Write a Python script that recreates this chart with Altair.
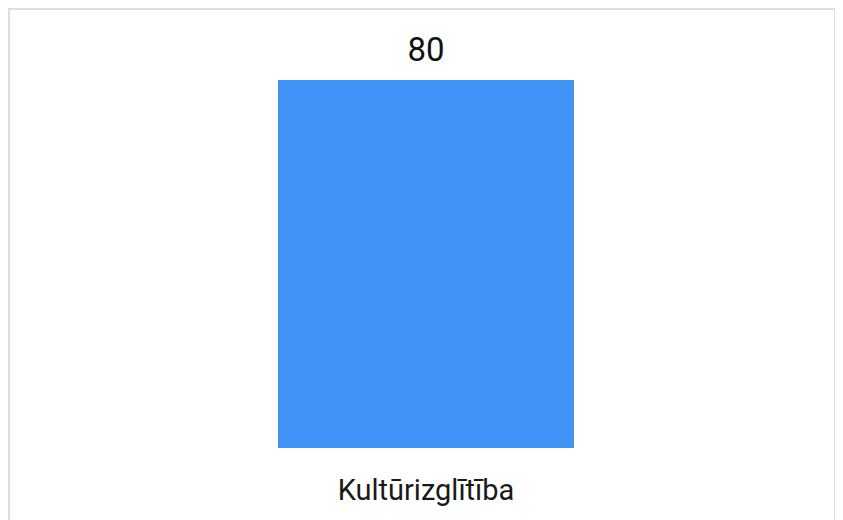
import altair as alt
import pandas as pd

categories = ["Kultūrizglītība"]
values = [80]

df = pd.DataFrame({"category": categories, "value": values, "base": [0] * len(values)})

x_enc = alt.X(
    "category:N",
    scale=alt.Scale(paddingInner=0, paddingOuter=0.8953, align=0.5075),
    axis=None,
)
y_scale = alt.Scale(domain=[-17.61, 95.43], nice=False, zero=False)

bars = alt.Chart(df).mark_bar(color="#4192f7").encode(
    x=x_enc,
    y=alt.Y("value:Q", scale=y_scale, axis=None),
    y2="base:Q",
)

value_labels = alt.Chart(df).mark_text(
    fontSize=33, font="Roboto", color="#111111", baseline="alphabetic", dy=-19
).encode(
    x=x_enc,
    y=alt.Y("value:Q", scale=y_scale, axis=None),
    text=alt.Text("value:Q"),
)

cat_labels = alt.Chart(df).mark_text(
    fontSize=29, font="Roboto", color="#1a1a1a", baseline="alphabetic", dy=52
).encode(
    x=x_enc,
    y=alt.Y("base:Q", scale=y_scale, axis=None),
    text="category:N",
)

chart = alt.layer(bars, value_labels, cat_labels).properties(
    width=826,
    height=520,
    padding={"left": 1, "top": 1, "right": 0, "bottom": 0},
).configure_view(stroke="#dddddd", strokeWidth=2)

chart.save("out.html", embed_options={"renderer": "svg", "actions": False})
